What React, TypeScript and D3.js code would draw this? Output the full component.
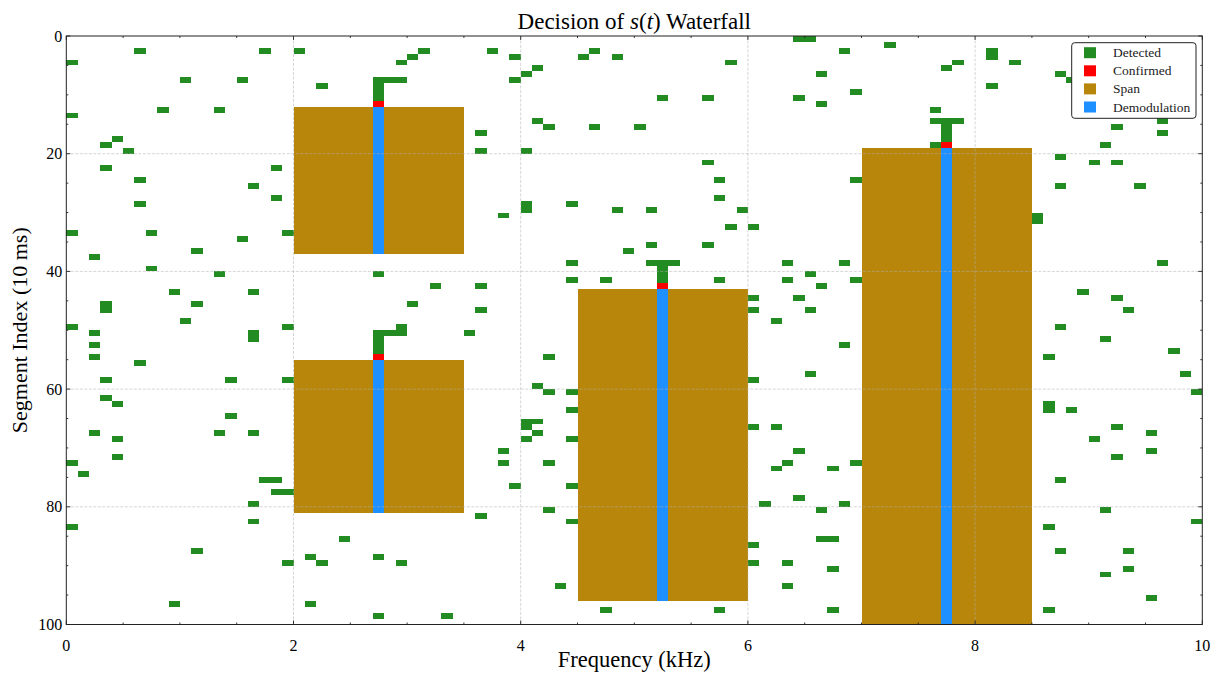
import React from "react";
import * as d3 from "d3";

// ---- data (frequency bins of 0.1 kHz, segments of 10 ms) ----
const FREQ_MAX = 10; // kHz
const SEG_MAX = 100;
const BIN_WIDTH = 0.1; // kHz per bin

const xTicks = [0, 2, 4, 6, 8, 10];
const yTicks = [0, 20, 40, 60, 80, 100];

// Detected cells: [frequency bin, segment index]
const detected: [number, number][] = [
  [6,2],[17,2],[20,2],[0,4],[10,7],[15,7],[22,8],[8,12],[13,12],[0,13],[4,17],[3,18],[5,19],[3,22],[18,22],[6,24],[16,25],[18,27],[6,28],
  [31,2],[30,3],[29,4],[37,2],[39,3],[45,3],[46,2],[48,3],[41,5],[40,6],[39,7],
  [27,7],[28,7],[29,7],[27,8],[27,9],[27,10],
  [41,14],[42,15],[46,15],[36,16],[36,19],[40,19],[40,28],[40,29],[44,28],[48,29],[38,30],
  [64,0],[65,0],[72,1],[68,2],[58,4],[66,6],[69,9],[52,10],[56,10],[64,10],[66,11],[50,15],[56,21],[57,24],[69,24],[57,27],[51,29],[59,29],[58,32],[60,32],
  [81,2],[81,3],[78,4],[77,5],[83,4],[87,6],[88,7],[81,8],[76,12],[76,14],[77,14],[78,14],[77,15],[77,16],[77,17],[76,18],
  [96,14],[92,15],[96,16],[91,18],[87,20],[90,21],[92,21],[87,25],[94,25],[85,30],[85,31],
  [0,33],[7,33],[15,34],[19,33],[11,36],[2,37],[7,39],[13,40],[9,43],[16,43],[3,45],[3,46],[11,45],[10,48],[0,49],[19,49],[2,50],[16,50],[16,51],[2,52],[2,54],[6,55],[3,58],[14,58],[19,58],[3,61],[4,62],[14,64],
  [49,36],[44,38],[27,40],[44,41],[47,41],[32,42],[36,42],[30,45],[36,46],
  [29,49],[27,50],[28,50],[29,50],[27,51],[27,52],[27,53],
  [35,50],[42,54],[41,59],[42,60],[44,60],[44,63],[40,65],[41,65],[40,66],
  [51,35],[56,35],[51,38],[52,38],[53,38],[52,39],[52,40],[52,41],
  [63,38],[68,38],[65,40],[57,41],[63,41],[66,42],[69,41],[60,44],[64,44],[60,46],[65,46],[62,48],[68,52],[65,57],[60,58],[60,66],[62,66],
  [96,38],[89,43],[92,44],[93,46],[87,49],[91,51],[97,53],[86,54],[98,57],[99,60],[86,62],[86,63],[88,63],[92,66],
  [2,67],[4,68],[13,67],[16,67],[4,71],[0,72],[1,74],[17,75],[18,75],[18,77],[19,77],[16,79],[16,82],[0,83],[24,85],[11,87],[21,88],[19,89],[22,89],[9,96],[21,96],
  [41,67],[40,68],[44,68],[38,70],[38,72],[42,72],[39,76],[44,76],[42,80],[44,82],[36,81],[27,88],[29,89],[43,93],[47,97],[27,98],[33,98],
  [64,70],[63,72],[62,73],[67,73],[69,72],[64,78],[61,79],[68,79],[66,80],[66,85],[67,85],[60,86],[60,89],[63,89],[67,90],[63,93],[57,97],[67,97],
  [95,67],[90,68],[95,70],[92,71],[87,75],[91,80],[99,82],[86,83],[87,87],[93,87],[93,90],[91,91],[95,95],[86,97],
];

// Spans (kHz / segment ranges), demodulation bin, confirmed segment
const spanFreqStart = [2.0, 2.0, 4.5, 7.0];
const spanFreqEnd = [3.5, 3.5, 6.0, 8.5];
const spanSegStart = [12, 55, 43, 19];
const spanSegEnd = [37, 81, 96, 100];
const demodBin = [27, 27, 52, 77];
const confirmedSeg = [11, 54, 42, 18];

const legendLabels = ["Detected", "Confirmed", "Span", "Demodulation"];
const legendColors = ["#228B22", "#FF0000", "#B8860B", "#1E90FF"];

const FONT = "'Liberation Serif', 'DejaVu Serif', serif";

export default function App() {
  const W = 1222, H = 673;
  const left = 66.3, right = 1202.3, top = 36, bottom = 624.5;
  const x = d3.scaleLinear().domain([0, FREQ_MAX]).range([left, right]);
  const y = d3.scaleLinear().domain([0, SEG_MAX]).range([top, bottom]);

  const cell = (bin: number, seg: number, color: string, key: string) => (
    <rect key={key} x={x(bin * BIN_WIDTH)} y={y(seg)}
      width={x((bin + 1) * BIN_WIDTH) - x(bin * BIN_WIDTH)} height={y(seg + 1) - y(seg)}
      fill={color} shapeRendering="crispEdges" />
  );

  const minorX = d3.range(0, FREQ_MAX + 0.001, 0.5);
  const minorY = d3.range(0, SEG_MAX + 0.001, 5);

  return (
    <svg width={W} height={H} style={{ position: "absolute", left: 0, top: 0, background: "#fff" }}
      fontFamily={FONT}>
      <rect x={0} y={0} width={W} height={H} fill="#fff" />
      {/* detected */}
      {detected.map(([b, s], i) => cell(b, s, legendColors[0], "d" + i))}
      {/* spans */}
      {spanFreqStart.map((f0, i) => (
        <g key={"s" + i}>
          <rect x={x(f0)} y={y(spanSegStart[i])} width={x(spanFreqEnd[i]) - x(f0)}
            height={y(spanSegEnd[i]) - y(spanSegStart[i])} fill={legendColors[2]} shapeRendering="crispEdges" />
          <rect x={x(demodBin[i] * BIN_WIDTH)} y={y(spanSegStart[i])}
            width={x((demodBin[i] + 1) * BIN_WIDTH) - x(demodBin[i] * BIN_WIDTH)}
            height={y(spanSegEnd[i]) - y(spanSegStart[i])} fill={legendColors[3]} shapeRendering="crispEdges" />
          {cell(demodBin[i], confirmedSeg[i], legendColors[1], "c" + i)}
        </g>
      ))}
      {/* grid */}
      {xTicks.slice(1, -1).map((t) => (
        <line key={"gx" + t} x1={x(t)} x2={x(t)} y1={top} y2={bottom} stroke="#b0b0b0" strokeOpacity={0.65}
          strokeWidth={0.8} strokeDasharray="3,1.5" />
      ))}
      {yTicks.slice(1, -1).map((t) => (
        <line key={"gy" + t} x1={left} x2={right} y1={y(t)} y2={y(t)} stroke="#b0b0b0" strokeOpacity={0.65}
          strokeWidth={0.8} strokeDasharray="3,1.5" />
      ))}
      {/* ticks (inward, all sides) */}
      {minorX.map((t) => {
        const major = xTicks.includes(t);
        const L = major ? 4 : 2;
        return (
          <g key={"tx" + t} stroke="#222" strokeWidth={0.9}>
            <line x1={x(t)} x2={x(t)} y1={bottom} y2={bottom - L} />
            <line x1={x(t)} x2={x(t)} y1={top} y2={top + L} />
          </g>
        );
      })}
      {minorY.map((t) => {
        const major = yTicks.includes(t);
        const L = major ? 4 : 2;
        return (
          <g key={"ty" + t} stroke="#222" strokeWidth={0.9}>
            <line x1={left} x2={left + L} y1={y(t)} y2={y(t)} />
            <line x1={right} x2={right - L} y1={y(t)} y2={y(t)} />
          </g>
        );
      })}
      <rect x={left} y={top} width={right - left} height={bottom - top} fill="none" stroke="#222" strokeWidth={1} />
      {/* tick labels */}
      {xTicks.map((t) => (
        <text key={"lx" + t} x={x(t)} y={651} fontSize={16} textAnchor="middle" fill="#000">{t}</text>
      ))}
      {yTicks.map((t) => (
        <text key={"ly" + t} x={left - 4} y={y(t) + 5.5} fontSize={16} textAnchor="end" fill="#000">{t}</text>
      ))}
      {/* titles */}
      <text x={(left + right) / 2} y={29} fontSize={23} textAnchor="middle" fill="#000">
        Decision of <tspan fontStyle="italic">s</tspan>(<tspan fontStyle="italic">t</tspan>) Waterfall
      </text>
      <text x={(left + right) / 2} y={667} fontSize={22.5} textAnchor="middle" fill="#000">Frequency (kHz)</text>
      <text transform={`translate(27,${(top + bottom) / 2}) rotate(-90)`} fontSize={22} textAnchor="middle" fill="#000">
        Segment Index (10 ms)
      </text>
      {/* legend */}
      <g>
        <rect x={1071.7} y={42.7} width={124.3} height={75.6} rx={3} fill="#fff" stroke="#222" strokeWidth={1} />
        {legendLabels.map((lab, i) => {
          const cy = 52.7 + i * 18.1;
          return (
            <g key={lab}>
              <rect x={1084} y={cy - 5.5} width={12} height={11} fill={legendColors[i]} />
              <text x={1113} y={cy + 4.5} fontSize={13.5} fill="#222">{lab}</text>
            </g>
          );
        })}
      </g>
    </svg>
  );
}
